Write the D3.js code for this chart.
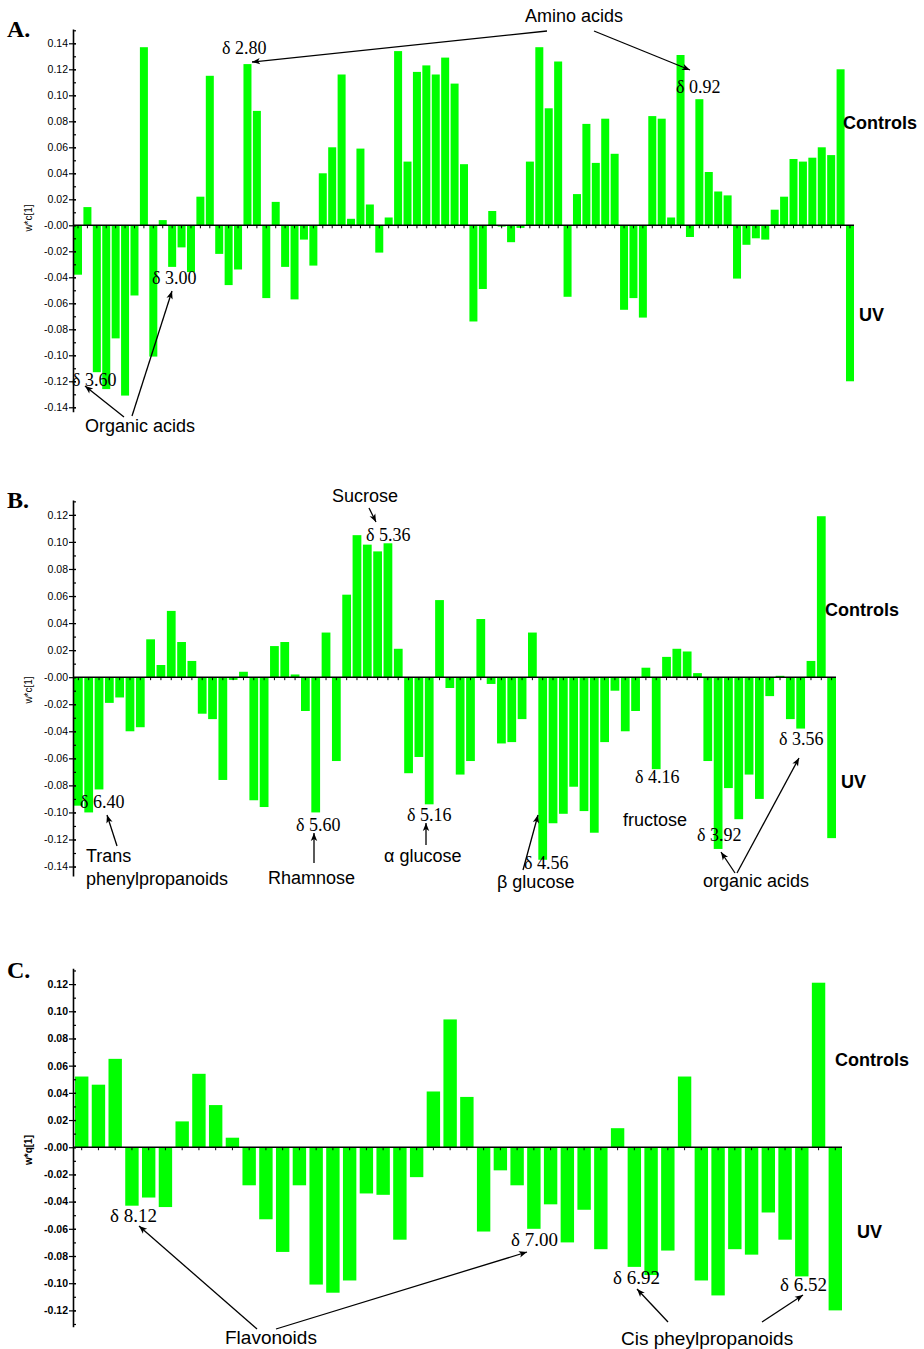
<!DOCTYPE html>
<html>
<head>
<meta charset="utf-8">
<script src="https://cdn.jsdelivr.net/npm/d3@7"></script>
<style>
  body { margin: 0; background: #fff; }
  svg { display: block; }
</style>
</head>
<body>
<div id="chart"></div>
<script>
// loadings
const valuesA = [-0.038, 0.014, -0.113, -0.126, -0.087, -0.131, -0.054, 0.137, -0.101, 0.004,
  -0.032, -0.017, -0.036, 0.022, 0.115, -0.022, -0.046, -0.034, 0.124, 0.088,
  -0.056, 0.018, -0.032, -0.057, -0.011, -0.031, 0.040, 0.060, 0.116, 0.005,
  0.059, 0.016, -0.021, 0.006, 0.134, 0.049, 0.118, 0.123, 0.116, 0.129,
  0.109, 0.047, -0.074, -0.049, 0.011, -0.001, -0.013, -0.002, 0.049, 0.137,
  0.090, 0.126, -0.055, 0.024, 0.078, 0.048, 0.082, 0.055, -0.065, -0.056,
  -0.071, 0.084, 0.082, 0.006, 0.131, -0.009, 0.097, 0.041, 0.026, 0.023,
  -0.041, -0.015, -0.010, -0.011, 0.012, 0.022, 0.051, 0.049, 0.052, 0.060,
  0.054, 0.120, -0.120]

const valuesB = [-0.095, -0.100, -0.083, -0.019, -0.015, -0.040, -0.037, 0.028, 0.009, 0.049,
  0.026, 0.012, -0.027, -0.031, -0.076, -0.002, 0.004, -0.091, -0.096, 0.023,
  0.026, 0.002, -0.025, -0.100, 0.033, -0.062, 0.061, 0.105, 0.098, 0.093,
  0.099, 0.021, -0.071, -0.059, -0.094, 0.057, -0.008, -0.072, -0.062, 0.043,
  -0.005, -0.049, -0.048, -0.031, 0.033, -0.135, -0.108, -0.101, -0.081, -0.099,
  -0.115, -0.048, -0.010, -0.040, -0.025, 0.007, -0.068, 0.015, 0.021, 0.019,
  0.003, -0.062, -0.127, -0.082, -0.105, -0.072, -0.090, -0.014, 0.001, -0.031,
  -0.038, 0.012, 0.119, -0.119]

const valuesC = [0.052, 0.046, 0.065, -0.043, -0.037, -0.044, 0.019, 0.054, 0.031, 0.007,
  -0.028, -0.053, -0.077, -0.028, -0.101, -0.107, -0.098, -0.034, -0.035, -0.068,
  -0.022, 0.041, 0.094, 0.037, -0.062, -0.017, -0.028, -0.060, -0.042, -0.070,
  -0.046, -0.075, 0.014, -0.088, -0.094, -0.076, 0.052, -0.098, -0.109, -0.075,
  -0.079, -0.048, -0.068, -0.095, 0.121, -0.120]

// variable numbers along the x axis
const categoriesA = valuesA.map((v, i) => i + 1)
const categoriesB = valuesB.map((v, i) => i + 1)
const categoriesC = valuesC.map((v, i) => i + 1)

const ticksA = [-0.14, -0.12, -0.10, -0.08, -0.06, -0.04, -0.02, 0, 0.02, 0.04, 0.06, 0.08, 0.10, 0.12, 0.14]
const ticksB = [-0.14, -0.12, -0.10, -0.08, -0.06, -0.04, -0.02, 0, 0.02, 0.04, 0.06, 0.08, 0.10, 0.12]
const ticksC = [-0.12, -0.10, -0.08, -0.06, -0.04, -0.02, 0, 0.02, 0.04, 0.06, 0.08, 0.10, 0.12]

const W = 924
const H = 1349
const sans = "'Liberation Sans', Arial, Helvetica, sans-serif"
const serif = "'Liberation Serif', 'Times New Roman', serif"

const svg = d3.select('#chart')
  .append('svg')
  .attr('width', W)
  .attr('height', H)

svg.append('rect').attr('width', W).attr('height', H).attr('fill', '#fff')

svg.append('defs').append('marker')
  .attr('id', 'arrow')
  .attr('viewBox', '0 0 10 10')
  .attr('refX', 10)
  .attr('refY', 5)
  .attr('markerUnits', 'userSpaceOnUse')
  .attr('markerWidth', 10)
  .attr('markerHeight', 8)
  .attr('orient', 'auto')
  .append('path')
  .attr('d', 'M0,1 L10,5 L0,9 L2.5,5 z')
  .attr('fill', '#000')

const fmt = (v) => (v <= 0 ? '-' : '') + Math.abs(v).toFixed(2)

const panel = (p) => {
  const g = svg.append('g')

  const x = d3.scaleBand()
    .domain(p.categories)
    .range(p.xRange)
    .paddingInner(p.pad)
    .paddingOuter(0)

  const y = d3.scaleLinear()
    .domain(p.yDomain)
    .range(p.yRange)

  g.selectAll('rect.bar')
    .data(p.values)
    .enter()
    .append('rect')
    .attr('class', 'bar')
    .attr('x', (d, i) => x(p.categories[i]))
    .attr('width', x.bandwidth())
    .attr('y', (d) => y(Math.max(0, d)))
    .attr('height', (d) => Math.abs(y(d) - y(0)))
    .attr('fill', '#00ff00')

  // minor ticks every 0.01
  const minor = d3.range(Math.ceil(p.yDomain[0] * 100), Math.floor(p.yDomain[1] * 100) + 1)
    .map((k) => k / 100)
  g.append('g')
    .attr('transform', `translate(${p.axisX},0)`)
    .call(d3.axisRight(y).tickValues(minor).tickFormat('').tickSize(3).tickSizeOuter(0))
    .call((a) => a.select('.domain').remove())
    .selectAll('line').attr('stroke', '#000').attr('stroke-width', 1.2)

  const yAxis = g.append('g')
    .attr('transform', `translate(${p.axisX},0)`)
    .call(d3.axisLeft(y).tickValues(p.ticks).tickFormat(fmt).tickSizeInner(4).tickSizeOuter(0).tickPadding(1))
  yAxis.select('.domain').attr('stroke', '#000').attr('stroke-width', 1.6)
  yAxis.selectAll('.tick line').attr('x1', 3).attr('stroke', '#000').attr('stroke-width', 1.2)
  yAxis.selectAll('.tick text')
    .attr('font-family', sans)
    .attr('font-size', '10.5px')
    .attr('font-weight', p.bold ? 'bold' : 'normal')
    .attr('fill', '#000')

  const xAxis = g.append('g')
    .attr('transform', `translate(0,${y(0)})`)
    .call(d3.axisBottom(x).tickFormat('').tickSize(3).tickSizeOuter(0))
  xAxis.select('.domain').attr('stroke', '#000').attr('stroke-width', 1.6)
    .attr('d', `M${p.axisX},0H${p.xRange[1]}`)
  xAxis.selectAll('.tick line').attr('stroke', '#000').attr('stroke-width', 1)

  g.append('text')
    .text(p.yLabel)
    .attr('transform', `translate(${p.axisX - 41},${p.yLabelAt}) rotate(-90)`)
    .attr('text-anchor', 'middle')
    .attr('font-family', sans)
    .attr('font-size', '10px')
    .attr('font-weight', p.bold ? 'bold' : 'normal')

  g.append('text')
    .text(p.letter)
    .attr('x', 7)
    .attr('y', p.letterY)
    .attr('font-family', serif)
    .attr('font-size', '24px')
    .attr('font-weight', 'bold')

  // annotations
  g.selectAll('text.note')
    .data(p.notes)
    .enter()
    .append('text')
    .attr('class', 'note')
    .text((d) => d.t)
    .attr('x', (d) => d.x)
    .attr('y', (d) => d.y)
    .attr('font-family', (d) => d.serif ? serif : sans)
    .attr('font-size', (d) => (d.size || 18) + 'px')
    .attr('font-weight', (d) => d.bold ? 'bold' : 'normal')
    .attr('text-anchor', (d) => d.anchor || 'start')
    .attr('fill', '#000')

  g.selectAll('line.arrow')
    .data(p.arrows)
    .enter()
    .append('line')
    .attr('class', 'arrow')
    .attr('x1', (d) => d[0])
    .attr('y1', (d) => d[1])
    .attr('x2', (d) => d[2])
    .attr('y2', (d) => d[3])
    .attr('stroke', '#000')
    .attr('stroke-width', 1.3)
    .attr('marker-end', 'url(#arrow)')
}

panel({
  values: valuesA, categories: categoriesA, ticks: ticksA,
  xRange: [74, 854], pad: 0.15, axisX: 73,
  yDomain: [-0.1434, 0.151], yRange: [411.7, 29],
  yLabel: 'w*c[1]', yLabelAt: 218, letter: 'A.', letterY: 37, bold: false,
  notes: [
    { t: 'Amino acids', x: 574, y: 22, anchor: 'middle' },
    { t: 'δ 2.80', x: 222, y: 54, serif: true },
    { t: 'δ 0.92', x: 676, y: 93, serif: true },
    { t: 'δ 3.00', x: 152, y: 284, serif: true },
    { t: 'δ 3.60', x: 72, y: 386, serif: true },
    { t: 'Organic acids', x: 85, y: 432 },
    { t: 'Controls', x: 843, y: 129, bold: true },
    { t: 'UV', x: 859, y: 321, bold: true }
  ],
  arrows: [[547, 31, 252, 62], [594, 31, 690, 70], [124, 417, 85, 386], [132, 416, 172, 291]]
})

panel({
  values: valuesB, categories: categoriesB, ticks: ticksB,
  xRange: [74, 836], pad: 0.15, axisX: 73,
  yDomain: [-0.147, 0.131], yRange: [876, 500],
  yLabel: 'w*c[1]', yLabelAt: 690, letter: 'B.', letterY: 508, bold: false,
  notes: [
    { t: 'Sucrose', x: 332, y: 502 },
    { t: 'δ 5.36', x: 366, y: 541, serif: true },
    { t: 'δ 6.40', x: 80, y: 808, serif: true },
    { t: 'Trans', x: 86, y: 862 },
    { t: 'phenylpropanoids', x: 86, y: 885 },
    { t: 'δ 5.60', x: 296, y: 831, serif: true },
    { t: 'Rhamnose', x: 268, y: 884 },
    { t: 'δ 5.16', x: 407, y: 821, serif: true },
    { t: 'α glucose', x: 384, y: 862 },
    { t: 'δ 4.56', x: 524, y: 869, serif: true },
    { t: 'β glucose', x: 497, y: 888 },
    { t: 'δ 4.16', x: 635, y: 783, serif: true },
    { t: 'fructose', x: 623, y: 826 },
    { t: 'δ 3.92', x: 697, y: 841, serif: true },
    { t: 'δ 3.56', x: 779, y: 745, serif: true },
    { t: 'organic acids', x: 703, y: 887 },
    { t: 'Controls', x: 825, y: 616, bold: true },
    { t: 'UV', x: 841, y: 788, bold: true }
  ],
  arrows: [[369, 508, 376, 522], [117, 846, 107, 815], [314, 863, 314, 833], [426, 845, 426, 823],
    [523, 870, 538, 815], [735, 873, 721, 852], [737, 873, 799, 758]]
})

panel({
  values: valuesC, categories: categoriesC, ticks: ticksC,
  xRange: [75, 842], pad: 0.2, axisX: 73,
  yDomain: [-0.132, 0.1316], yRange: [1326.7, 968.3],
  yLabel: 'w*q[1]', yLabelAt: 1150, letter: 'C.', letterY: 978, bold: true,
  notes: [
    { t: 'δ 8.12', x: 110, y: 1222, serif: true, size: 19 },
    { t: 'Flavonoids', x: 225, y: 1344, size: 19 },
    { t: 'δ 7.00', x: 511, y: 1246, serif: true, size: 19 },
    { t: 'δ 6.92', x: 613, y: 1284, serif: true, size: 19 },
    { t: 'δ 6.52', x: 780, y: 1291, serif: true, size: 19 },
    { t: 'Cis pheylpropanoids', x: 621, y: 1345, size: 19 },
    { t: 'Controls', x: 835, y: 1066, bold: true },
    { t: 'UV', x: 857, y: 1238, bold: true }
  ],
  arrows: [[257, 1329, 139, 1226], [276, 1329, 527, 1252], [668, 1322, 637, 1289], [762, 1322, 803, 1295]]
})
</script>
</body>
</html>
